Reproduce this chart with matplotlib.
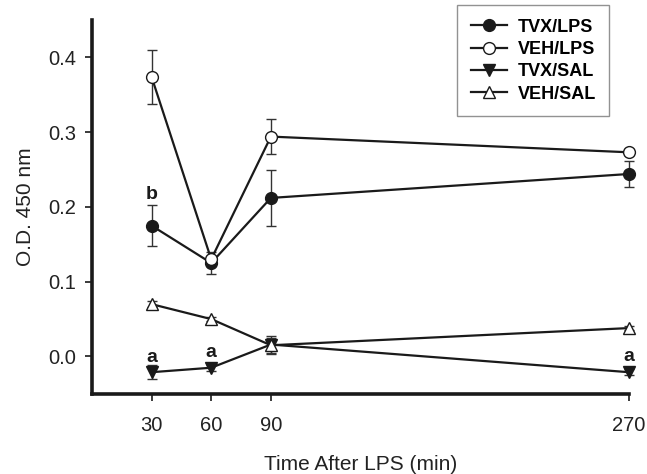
import matplotlib
matplotlib.use("Agg")
import matplotlib.pyplot as plt

plt.rcParams['font.family'] = ['Liberation Sans', 'DejaVu Sans']

time = [30, 60, 90, 270]
tvx_lps = [0.175, 0.125, 0.212, 0.244]
tvx_lps_err = [0.027, 0.015, 0.037, 0.017]
veh_lps = [0.374, 0.130, 0.294, 0.273]
veh_lps_err = [0.036, 0.004, 0.023, 0.004]
tvx_sal = [-0.021, -0.015, 0.016, -0.021]
tvx_sal_err = [0.009, 0.004, 0.012, 0.004]
veh_sal = [0.070, 0.050, 0.015, 0.038]
veh_sal_err = [0.004, 0.003, 0.010, 0.003]

labels = ["TVX/LPS", "VEH/LPS", "TVX/SAL", "VEH/SAL"]
xticks = [30, 60, 90, 270]
yticks = [0.0, 0.1, 0.2, 0.3, 0.4]
annotations = [(30, 0.217, "b"), (30, -0.001, "a"), (60, 0.005, "a"), (270, 0.0, "a")]

fig = plt.figure(figsize=(6.47, 4.74), dpi=100)
ax = fig.add_axes([0.142, 0.169, 0.83, 0.789])

lc = '#1a1a1a'
series = [
    (tvx_lps, tvx_lps_err, 'o', lc),
    (veh_lps, veh_lps_err, 'o', 'white'),
    (tvx_sal, tvx_sal_err, 'v', lc),
    (veh_sal, veh_sal_err, '^', 'white'),
]
handles = []
for (vals, errs, m, fc), lab in zip(series, labels):
    ax.errorbar(time, vals, yerr=errs, fmt='none', ecolor='#333333',
                elinewidth=1.0, capsize=3.5, capthick=1.0, clip_on=False, zorder=2)
    ln, = ax.plot(time, vals, color=lc, lw=1.6, marker=m, markersize=8.5,
                  markerfacecolor=fc, markeredgecolor=lc, markeredgewidth=1.0,
                  clip_on=False, zorder=3, label=lab)
    handles.append(ln)

for x, y, t in annotations:
    ax.text(x, y, t, ha='center', va='center', fontsize=14, fontweight='bold', color=lc)

ax.set_xlim(0, 270)
ax.set_ylim(-0.05, 0.45)
ax.set_xticks(xticks)
ax.set_yticks(yticks)
ax.set_yticklabels([f"{v:.1f}" for v in yticks])
ax.tick_params(axis='both', labelsize=14.5, color=lc, labelcolor='#222222', width=1.2, length=5)
ax.tick_params(axis='x', pad=11)
ax.tick_params(axis='y', pad=6)
for s in ['top', 'right']:
    ax.spines[s].set_visible(False)
for s in ['left', 'bottom']:
    ax.spines[s].set_linewidth(2.6)
    ax.spines[s].set_color(lc)

ax.set_xlabel("Time After LPS (min)", fontsize=15, color='#222222', labelpad=14)
ax.set_ylabel("O.D. 450 nm", fontsize=15, color='#222222', labelpad=10)

leg = fig.legend(handles=handles, labels=labels, loc='upper left',
                 bbox_to_anchor=(457/647, 1 - 5/474), borderaxespad=0, frameon=True, fancybox=False,
                 edgecolor='#777777', handlelength=2.0, handletextpad=0.6,
                 labelspacing=0.3, borderpad=0.75,
                 prop={'size': 13, 'weight': 'bold'})
leg.get_frame().set_linewidth(1.0)

fig.savefig("out.png", dpi=100)
